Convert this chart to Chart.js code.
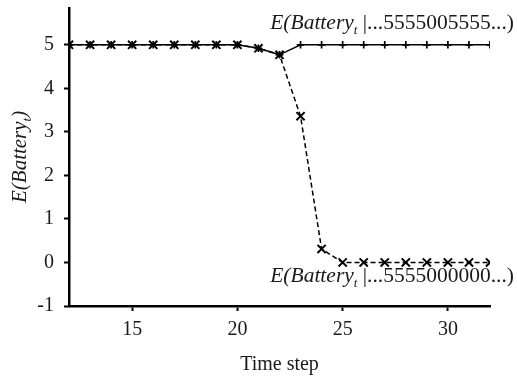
<!DOCTYPE html>
<html>
<head>
<meta charset="utf-8">
<script src="https://cdn.jsdelivr.net/npm/chart.js@4/dist/chart.umd.min.js"></script>
<style>
  html, body { margin: 0; padding: 0; background: #fff; }
  #wrap { width: 517px; height: 376px; position: relative; }
</style>
</head>
<body>
<div id="wrap"><canvas id="c" width="517" height="376"></canvas></div>
<script>
// ---- data ----
const timeSteps = [12,13,14,15,16,17,18,19,20,21,22,23,24,25,26,27,28,29,30,31,32];
const batteryRecovered = [5,5,5,5,5,5,5,5,5,4.92,4.77,5,5,5,5,5,5,5,5,5,5];
const batteryDepleted  = [5,5,5,5,5,5,5,5,5,4.92,4.77,3.36,0.31,0,0,0,0,0,0,0,0];
const xTicks = [15,20,25,30];
const yTicks = [-1,0,1,2,3,4,5];
const labelRecovered = ["E(Battery", "t", " |...5555005555...)"];
const labelDepleted  = ["E(Battery", "t", " |...5555000000...)"];
const yTitle = ["E(Battery", "t", ")"];
const xTitle = "Time step";

const SERIF = "'Liberation Serif', 'Times New Roman', serif";
const TXT = '#1a1a1a';

function segs(parts, size) {
  return [
    {t: parts[0], font: 'italic ' + size + 'px ' + SERIF, dy: 0},
    {t: parts[1], font: 'italic ' + Math.round(size*0.6) + 'px ' + SERIF, dy: size*0.22},
    {t: parts[2], font: (parts[2] === ')' ? 'italic ' : '') + size + 'px ' + SERIF, dy: 0}
  ];
}
function drawSegs(ctx, list, x, y, align) {
  let w = 0;
  list.forEach(s => { ctx.font = s.font; s.w = ctx.measureText(s.t).width; w += s.w; });
  let cx = align === 'right' ? x - w : (align === 'center' ? x - w/2 : x);
  ctx.textAlign = 'left';
  ctx.textBaseline = 'alphabetic';
  list.forEach(s => { ctx.font = s.font; ctx.fillText(s.t, cx, y + s.dy); cx += s.w; });
}

const textPlugin = {
  id: 'texts',
  afterDraw(chart) {
    const ctx = chart.ctx;
    const xs = chart.scales.x, ys = chart.scales.y;
    ctx.save();
    ctx.fillStyle = TXT;
    // series labels anchored to data coordinates
    drawSegs(ctx, segs(labelRecovered, 21.5), xs.getPixelForValue(32) + 24, ys.getPixelForValue(5) - 16, 'right');
    drawSegs(ctx, segs(labelDepleted, 21.5), xs.getPixelForValue(32) + 24, ys.getPixelForValue(0) + 20, 'right');
    // x title
    ctx.font = '20px ' + SERIF;
    ctx.textAlign = 'center';
    ctx.textBaseline = 'alphabetic';
    ctx.fillText(xTitle, (xs.left + xs.right)/2, 370);
    // y title
    ctx.translate(26, (ys.top + ys.bottom)/2);
    ctx.rotate(-Math.PI/2);
    drawSegs(ctx, segs(yTitle, 21), 0, 0, 'center');
    ctx.restore();
  }
};

new Chart(document.getElementById('c'), {
  type: 'line',
  data: {
    labels: timeSteps,
    datasets: [
      {
        data: timeSteps.map((t, i) => ({x: t, y: batteryRecovered[i]})),
        borderColor: '#000', borderWidth: 1.5,
        pointStyle: 'cross', pointRadius: 3.8, pointBorderWidth: 1.7,
        pointBorderColor: '#000', pointBackgroundColor: '#000',
        tension: 0, order: 0
      },
      {
        data: timeSteps.map((t, i) => ({x: t, y: batteryDepleted[i]})),
        borderColor: '#000', borderWidth: 1.5, borderDash: [5, 3],
        pointStyle: 'crossRot', pointRadius: 5.8, pointBorderWidth: 2,
        pointBorderColor: '#000', pointBackgroundColor: '#000',
        tension: 0, order: 1
      }
    ]
  },
  options: {
    responsive: false,
    animation: false,
    devicePixelRatio: 1,
    layout: { padding: { left: 0, right: 27, top: 6, bottom: 0 } },
    plugins: { legend: { display: false }, tooltip: { enabled: false } },
    scales: {
      x: {
        type: 'linear', min: 12, max: 32,
        afterBuildTicks: s => { s.ticks = xTicks.map(v => ({value: v})); },
        afterFit: s => { s.height = 70; s.paddingLeft = 0; s.paddingRight = 0; },
        grid: { display: true, drawOnChartArea: false, drawTicks: true, tickLength: 5, tickWidth: 2, tickColor: '#000' },
        border: { display: true, color: '#000', width: 2.5 },
        ticks: { color: TXT, font: { family: SERIF, size: 20 }, padding: 7, maxRotation: 0 }
      },
      y: {
        type: 'linear', min: -1, max: 5.85,
        afterBuildTicks: s => { s.ticks = yTicks.map(v => ({value: v})); },
        afterFit: s => { s.width = 69; s.paddingTop = 0; s.paddingBottom = 0; },
        grid: { display: true, drawOnChartArea: false, drawTicks: true, tickLength: 5, tickWidth: 2, tickColor: '#000' },
        border: { display: true, color: '#000', width: 2.5 },
        ticks: { color: TXT, font: { family: SERIF, size: 20 }, padding: 10 }
      }
    }
  },
  plugins: [textPlugin]
});
</script>
</body>
</html>
